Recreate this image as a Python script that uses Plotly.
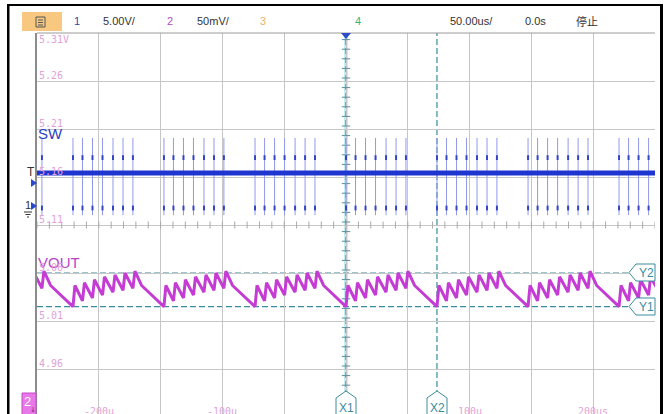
import numpy as np
import plotly.graph_objects as go

# ---------------- acquisition data ----------------
# time base 50 us/div, trigger at t = 0
BURST_START_US = [-294.5, -220.9, -147.3, -73.6, 0.0, 73.6, 147.3, 220.9]
PULSE_OFFSET_US = [0.0, 7.7, 15.8, 23.9, 32.4, 40.5, 48.5]

# channel 1 (SW node, 5.00 V/div)
SW_IDLE_V = 3.65
SW_SPIKE_HIGH_V = 7.3
SW_SPIKE_LOW_V = -0.75
SW_HIGH_DWELL_V = (5.0, 5.5)
SW_LOW_DWELL_V = (-0.25, 0.25)

# channel 2 (VOUT, 50 mV/div): vertices of one burst period, relative to burst start
VOUT_BURST_T_US = [0.0, 1.6, 7.7, 9.3, 15.8, 17.4, 23.9, 25.5,
                   32.4, 34.0, 40.5, 42.1, 48.5, 50.1, 55.5]
VOUT_BURST_V = [5.025, 5.047, 5.031, 5.050, 5.034, 5.053, 5.037, 5.056,
                5.040, 5.058, 5.042, 5.060, 5.044, 5.062, 5.047]

VOUT_TICKS_V = [5.31, 5.26, 5.21, 5.16, 5.11, 5.06, 5.01, 4.96]
TIME_TICKS_US = [-200, -100, 100, 200]
TIME_TICK_LABELS = ["-200u", "-100u", "100u", "200us"]

CURSOR_X_US = {"X1": 0.0, "X2": 73.6}
CURSOR_Y_V = {"Y1": 5.025, "Y2": 5.060}

# ---------------- screen geometry ----------------
W, H = 668, 414
ML, MR, MT, MB = 37, 13, 33, 0
PW, PH = W - ML - MR, H - MT - MB
PX_PER_DIV_Y = 48.0
V_PER_DIV = 0.05
Y_TOP = 5.31
Y_BOT = Y_TOP - V_PER_DIV * PH / PX_PER_DIV_Y
SW_V_PER_DIV = 5.0
SW_GND_PX = 208.0
SW_TOP = (SW_GND_PX - MT) / PX_PER_DIV_Y * SW_V_PER_DIV
SW_BOT = SW_TOP - PH / PX_PER_DIV_Y * SW_V_PER_DIV


def fx(px):
    return (px - ML) / PW


def fy(py):
    return (H - MB - py) / PH


GRID = "#c6c6c6"
CURSOR = "#3b8c9c"
PINK = "#e2a2d8"
BLUE = "#1f35d0"
MAGENTA = "#c43cd4"

# ---------------- traces ----------------
vout_t, vout_v = [], []
for b in BURST_START_US:
    for dt, v in zip(VOUT_BURST_T_US, VOUT_BURST_V):
        vout_t.append(b + dt)
        vout_v.append(v)

spike_x, spike_y, hi_x, hi_y, lo_x, lo_y = [], [], [], [], [], []
for b in BURST_START_US:
    for o in PULSE_OFFSET_US:
        t = b + o
        spike_x += [t, t, None]
        spike_y += [SW_SPIKE_HIGH_V, SW_SPIKE_LOW_V, None]
        hi_x += [t, t, None]
        hi_y += [SW_HIGH_DWELL_V[0], SW_HIGH_DWELL_V[1], None]
        lo_x += [t, t, None]
        lo_y += [SW_LOW_DWELL_V[0], SW_LOW_DWELL_V[1], None]

fig = go.Figure()

# minor ticks on the centre cross
fig.add_trace(go.Scatter(
    x=np.arange(-250, 251, 10), y=[Y_TOP - 4 * V_PER_DIV] * 51,
    mode="markers", hoverinfo="skip",
    marker=dict(symbol="line-ns", size=5, line=dict(color="#a9a9a9", width=1))))
fig.add_trace(go.Scatter(
    x=[0] * 40, y=Y_BOT + np.arange(40) * V_PER_DIV / 5,
    mode="markers", hoverinfo="skip",
    marker=dict(symbol="line-ew", size=6, line=dict(color="#5a8f9c", width=1))))

# SW channel
fig.add_trace(go.Scatter(x=spike_x, y=spike_y, yaxis="y2", mode="lines",
                         line=dict(color="#9299ea", width=1), hoverinfo="skip"))
fig.add_trace(go.Scatter(x=hi_x, y=hi_y, yaxis="y2", mode="lines",
                         line=dict(color="#3344c4", width=2), hoverinfo="skip"))
fig.add_trace(go.Scatter(x=lo_x, y=lo_y, yaxis="y2", mode="lines",
                         line=dict(color="#3344c4", width=2), hoverinfo="skip"))
fig.add_trace(go.Scatter(x=[-250, 250], y=[SW_IDLE_V, SW_IDLE_V], yaxis="y2",
                         mode="lines", line=dict(color=BLUE, width=5), hoverinfo="skip"))

# VOUT channel
fig.add_trace(go.Scatter(x=vout_t, y=vout_v, mode="lines",
                         line=dict(color=MAGENTA, width=3), hoverinfo="skip"))

shapes = []
annotations = []


def label(px, py, text, size, color, family="Liberation Sans", xanchor="center"):
    annotations.append(dict(xref="paper", yref="paper", x=fx(px), y=fy(py), text=text,
                            xanchor=xanchor, yanchor="middle", showarrow=False,
                            font=dict(family=family, size=size, color=color)))


# cursors
shapes.append(dict(type="line", xref="x", yref="paper", x0=0, x1=0, y0=0, y1=1,
                   line=dict(color="#c4ecf4", width=4), layer="between"))
for name, t in CURSOR_X_US.items():
    shapes.append(dict(type="line", xref="x", yref="paper", x0=t, x1=t, y0=0, y1=1,
                       line=dict(color=CURSOR, width=1.2, dash="6px,3px"), layer="between"))
for name, v in CURSOR_Y_V.items():
    shapes.append(dict(type="line", xref="paper", yref="y", x0=0, x1=1, y0=v, y1=v,
                       line=dict(color=CURSOR, width=1.2, dash="6px,3px"), layer="between"))

# plot frame (top edge)
shapes.append(dict(type="line", xref="paper", yref="paper", x0=0, x1=1, y0=1, y1=1,
                   line=dict(color="#9a9a9a", width=1)))

# cursor tags
x_tag_px = {"X1": 346.0, "X2": 437.0}
for name, cx in x_tag_px.items():
    path = (f"M {fx(cx - 10)} {fy(416)} L {fx(cx - 10)} {fy(398)} L {fx(cx)} {fy(391)} "
            f"L {fx(cx + 10)} {fy(398)} L {fx(cx + 10)} {fy(416)} Z")
    shapes.append(dict(type="path", xref="paper", yref="paper", path=path,
                       fillcolor="white", line=dict(color=CURSOR, width=1)))
    label(cx, 407.5, name, 12, CURSOR)
y_tag_px = {"Y2": 272.5, "Y1": 306.5}
for name, cy in y_tag_px.items():
    path = (f"M {fx(629)} {fy(cy)} L {fx(636)} {fy(cy - 8.5)} L {fx(655)} {fy(cy - 8.5)} "
            f"L {fx(655)} {fy(cy + 8.5)} L {fx(636)} {fy(cy + 8.5)} Z")
    shapes.append(dict(type="path", xref="paper", yref="paper", path=path,
                       fillcolor="white", line=dict(color=CURSOR, width=1)))
    label(646, cy + 0.5, name, 12, CURSOR)

# black screen frame
for x0, x1, y0, y1 in [(7, 663, 4, 6), (7, 9.5, 4, 414), (660, 663, 4, 414)]:
    shapes.append(dict(type="rect", xref="paper", yref="paper", x0=fx(x0), x1=fx(x1),
                       y0=fy(y1), y1=fy(y0), fillcolor="black", line=dict(width=0)))

# header bar
shapes.append(dict(type="rect", xref="paper", yref="paper", x0=fx(22), x1=fx(62),
                   y0=fy(31), y1=fy(12), fillcolor="#f9c880", line=dict(width=0)))
shapes.append(dict(type="rect", xref="paper", yref="paper", x0=fx(36), x1=fx(45),
                   y0=fy(27), y1=fy(17), fillcolor="rgba(0,0,0,0)",
                   line=dict(color="#555555", width=1)))
for ly in (20, 22.5, 25):
    shapes.append(dict(type="line", xref="paper", yref="paper", x0=fx(38), x1=fx(43),
                       y0=fy(ly), y1=fy(ly), line=dict(color="#555555", width=1)))

header = [("1", 77, "#2c4aa5"), ("5.00V/", 119.5, "#333333"), ("2", 170, "#b04cc0"),
          ("50mV/", 213.5, "#333333"), ("3", 263, "#e6b46c"), ("4", 358, "#3db37a"),
          ("50.00us/", 471, "#333333"), ("0.0s", 535, "#333333")]
for txt, hx, col in header:
    label(hx, 21.5, txt, 11, col)
label(587, 21.5, "停止", 11, "#333333", family="Noto Sans CJK SC")

# trigger position marker
shapes.append(dict(type="path", xref="paper", yref="paper",
                   path=f"M {fx(341)} {fy(33)} L {fx(351)} {fy(33)} L {fx(346)} {fy(39)} Z",
                   fillcolor="#2c4cc8", line=dict(width=0)))

# trigger level and ch1 ground markers
for cy in (183, 206):
    shapes.append(dict(type="path", xref="paper", yref="paper",
                       path=f"M {fx(31)} {fy(cy - 4)} L {fx(31)} {fy(cy + 4)} L {fx(37)} {fy(cy)} Z",
                       fillcolor="#2a48d0", line=dict(width=0)))
label(31, 172, "T", 12, "#333333")
label(27.5, 205, "1", 11, "#333333")
for ly, hw in ((212, 4), (214.5, 2.5), (217, 1)):
    shapes.append(dict(type="line", xref="paper", yref="paper", x0=fx(28 - hw), x1=fx(28 + hw),
                       y0=fy(ly), y1=fy(ly), line=dict(color="#333333", width=1)))

# ch2 marker
shapes.append(dict(type="rect", xref="paper", yref="paper", x0=fx(22), x1=fx(36),
                   y0=fy(415), y1=fy(393), fillcolor="#e877ea", line=dict(color="#c54ac8", width=1)))
label(27, 401, "2", 13, "white")
label(32.5, 410, "↓", 7, "#7a1f80", family="DejaVu Sans")

# channel names
label(36, 133, "SW", 15, "#2a3fc2", xanchor="left")
label(36, 262, "VOUT", 15, "#b845c8", xanchor="left")

# ch2 scale labels and time labels
for i, v in enumerate(VOUT_TICKS_V):
    annotations.append(dict(xref="paper", yref="y", x=fx(37), y=v,
                            text=f"{v:.2f}V" if i == 0 else f"{v:.2f}",
                            xanchor="left", yanchor="middle", yshift=-6 if i == 0 else 6,
                            showarrow=False, font=dict(family="DejaVu Sans Mono", size=10, color=PINK)))
for t, lab in zip(TIME_TICKS_US, TIME_TICK_LABELS):
    annotations.append(dict(xref="x", yref="paper", x=t, y=fy(411), text=lab,
                            xanchor="center", yanchor="middle",
                            showarrow=False, font=dict(family="DejaVu Sans Mono", size=10, color=PINK)))

fig.update_layout(
    width=W, height=H,
    margin=dict(l=ML, r=MR, t=MT, b=MB, pad=0),
    paper_bgcolor="white", plot_bgcolor="white",
    showlegend=False,
    xaxis=dict(range=[-250, 250], tick0=0, dtick=50, showgrid=True, gridcolor=GRID, gridwidth=1,
               showticklabels=False, ticks="", zeroline=False, showline=False, fixedrange=True),
    yaxis=dict(range=[Y_BOT, Y_TOP], tick0=4.96, dtick=V_PER_DIV, showgrid=True, gridcolor=GRID,
               gridwidth=1, showticklabels=False, ticks="", zeroline=False,
               showline=True, linecolor="#8c8c8c", linewidth=2, fixedrange=True),
    yaxis2=dict(range=[SW_BOT, SW_TOP], overlaying="y", visible=False, fixedrange=True),
    shapes=shapes,
    annotations=annotations,
)

fig.write_html("out.html")
